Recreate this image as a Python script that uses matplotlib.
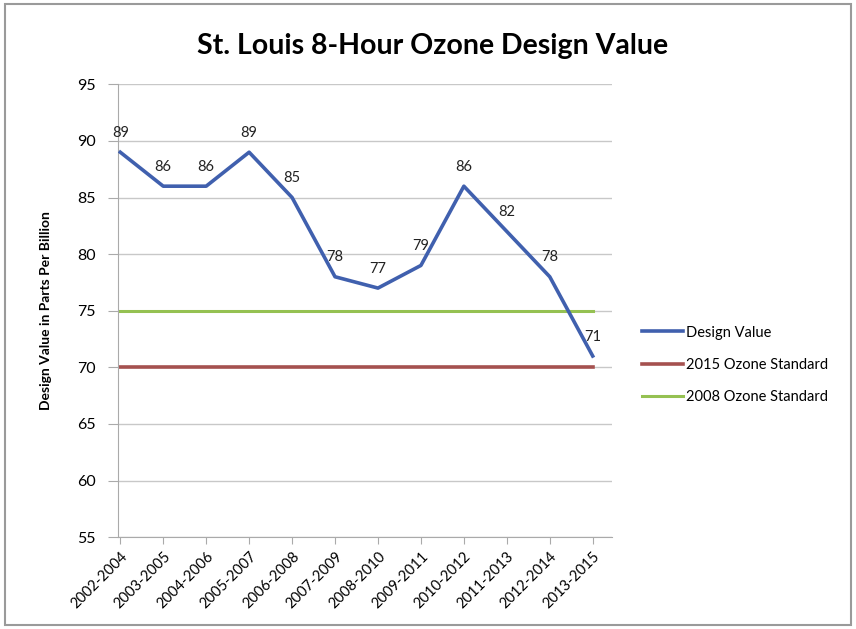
import matplotlib.pyplot as plt
from matplotlib.patches import Rectangle

periods = ['2002-2004', '2003-2005', '2004-2006', '2005-2007', '2006-2008', '2007-2009',
           '2008-2010', '2009-2011', '2010-2012', '2011-2013', '2012-2014', '2013-2015']
design_value = [89, 86, 86, 89, 85, 78, 77, 79, 86, 82, 78, 71]
standard_2015 = [70] * len(periods)
standard_2008 = [75] * len(periods)

plt.rcParams['font.family'] = ['Lato', 'DejaVu Sans']

fig = plt.figure(figsize=(8.56, 6.29), dpi=100)
ax = fig.add_axes([0.138, 0.146, 0.577, 0.72])

x = list(range(len(periods)))
ax.plot(x, design_value, color='#4060ae', lw=2.6, label='Design Value', zorder=3)
ax.plot(x, standard_2015, color='#a5514f', lw=2.6, label='2015 Ozone Standard', zorder=2)
ax.plot(x, standard_2008, color='#95c152', lw=2.2, label='2008 Ozone Standard', zorder=2)

for xi, v in zip(x, design_value):
    ax.annotate(str(v), (xi, v), textcoords='offset points', xytext=(0, 9),
                ha='center', va='bottom', fontsize=10.5, color='#222222')

ax.set_ylim(55, 95)
ax.set_yticks(range(55, 96, 5))
ax.set_xlim(-0.05, 11.45)
ax.set_xticks(x)
ax.set_xticklabels(periods, rotation=45, ha='right', rotation_mode='anchor', fontsize=10.5)
ax.tick_params(axis='y', labelsize=11.5, length=7, color='#aaaaaa', pad=9)
ax.tick_params(axis='x', length=5, color='#aaaaaa', pad=4)
ax.grid(axis='y', color='#c8c8c8', lw=1)
ax.set_axisbelow(True)
for side in ['top', 'right']:
    ax.spines[side].set_visible(False)
for side in ['left', 'bottom']:
    ax.spines[side].set_color('#aaaaaa')

ax.set_ylabel('Design Value in Parts Per Billion', fontsize=10, fontweight='bold', labelpad=18)
fig.suptitle('St. Louis 8-Hour Ozone Design Value', fontsize=20.5, fontweight='bold',
             x=0.505, y=0.948)

fig.legend(loc='center left', bbox_to_anchor=(0.735, 0.42), frameon=False,
           fontsize=10.5, handlelength=2.8, handletextpad=0.2, labelspacing=1.25)

fig.patches.append(Rectangle((0.006, 0.006), 0.988, 0.988, transform=fig.transFigure,
                             fill=False, edgecolor='#9a9a9a', lw=1.5))

fig.savefig('out.png', dpi=100)
